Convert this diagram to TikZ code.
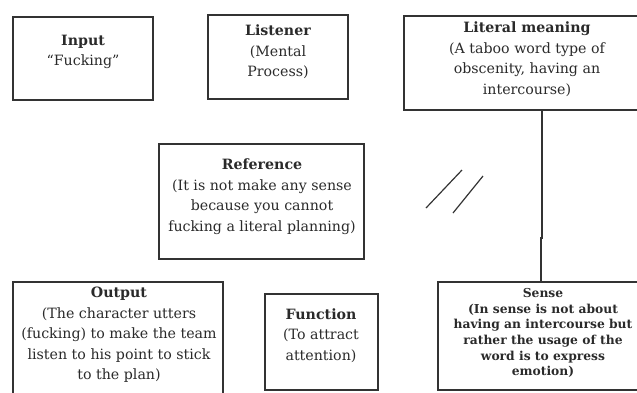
\documentclass[tikz,border=0pt]{standalone}
\usepackage{fontspec}
\setmainfont{DejaVu Serif}
\definecolor{ink}{HTML}{2A2A2A}
\definecolor{edge}{HTML}{333333}
\tikzset{
  boxframe/.style={draw=edge, line width=1.5pt, fill=none},
  boxtext/.style={text=ink, align=center, inner sep=0pt, font=\fontsize{14.2}{20.5}\selectfont},
  smalltext/.style={text=ink, align=center, inner sep=0pt, font=\bfseries\fontsize{12.3}{15.6}\selectfont},
  link/.style={draw=edge, line width=1.2pt},
}
\begin{document}
\begin{tikzpicture}[x=1pt,y=-1pt]
\useasboundingbox (0,0) rectangle (637,392);
% frames
\draw[boxframe] (13,17) rectangle (153,100);
\draw[boxframe] (208,15) rectangle (348,99);
\draw[boxframe] (404,16) rectangle (652,110);
\draw[boxframe] (159,144) rectangle (364,259);
\draw[boxframe] (13,282) rectangle (223,400);
\draw[boxframe] (265,294) rectangle (378,390);
\draw[boxframe] (438,282) rectangle (650,390);
% texts
\node[boxtext] (input) at (83,52) {\textbf{Input}\\“Fucking”};
\node[boxtext] (listener) at (278,52) {\textbf{Listener}\\(Mental\\Process)};
\node[boxtext] (literal) at (527,59) {\textbf{Literal meaning}\\(A taboo word type of\\obscenity, having an\\intercourse)};
\node[boxtext] (reference) at (262,196.5) {\textbf{Reference}\\(It is not make any sense\\because you cannot\\fucking a literal planning)};
\node[boxtext] (output) at (119,335) {\textbf{Output}\\(The character utters\\(fucking) to make the team\\listen to his point to stick\\to the plan)};
\node[boxtext] (function) at (321,335.5) {\textbf{Function}\\(To attract\\attention)};
\node[smalltext] (sense) at (543,333) {Sense\\(In sense is not about\\having an intercourse but\\rather the usage of the\\word is to express\\emotion)};
% connector from literal meaning to sense
\coordinate (littop) at (542,110);
\coordinate (bend1) at (542,238);
\coordinate (bend2) at (541,238);
\coordinate (sensetop) at (541,282);
\draw[link] (littop) -- (bend1) -- (bend2) -- (sensetop);
% slashes
\draw[link] (426,208) -- (462,170);
\draw[link] (453,213) -- (483,176);
\end{tikzpicture}
\end{document}
